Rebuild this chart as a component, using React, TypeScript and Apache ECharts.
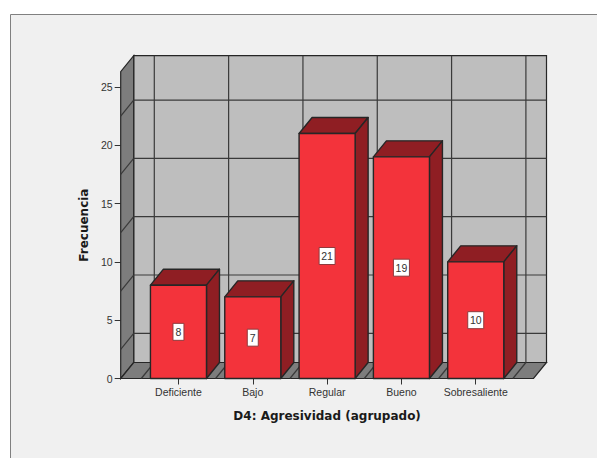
import React, { useEffect, useRef } from "react";
import * as echarts from "echarts";

const categories = ["Deficiente", "Bajo", "Regular", "Bueno", "Sobresaliente"];
const frequencies = [8, 7, 21, 19, 10];
const tickValues = [0, 5, 10, 15, 20, 25];
const wallLineValues = [2.5, 7.5, 12.5, 17.5, 22.5];
const axisMax = 26.3;

const DEPTH_X = 13;
const DEPTH_Y = 16;
const BAR_RATIO = 0.754;
const SIDE_MARGIN = 20.6;

const INK = "#262626";
const FONT = "'Liberation Sans', Arial, sans-serif";
const TITLE_FONT = "'DejaVu Sans', Verdana, sans-serif";

// Side wall, floor and back wall of the 3D box, with their grid lines.
function renderWalls(_params: any, api: any) {
  const base = api.coord([0, 0]);
  const band = api.size([1, 0])[0];
  const y0 = base[1];
  const yTop = api.coord([0, axisMax])[1];
  const xFirst = base[0] - band / 2;
  const x0 = xFirst - SIDE_MARGIN;
  const x1 = xFirst + band * categories.length + SIDE_MARGIN;
  const children: any[] = [
    {
      type: "polygon",
      shape: { points: [[x0 + DEPTH_X, yTop - DEPTH_Y], [x1 + DEPTH_X, yTop - DEPTH_Y], [x1 + DEPTH_X, y0 - DEPTH_Y], [x0 + DEPTH_X, y0 - DEPTH_Y]] },
      style: { fill: "#bebebe", stroke: INK, lineWidth: 1.2 },
    },
    {
      type: "polygon",
      shape: { points: [[x0, y0], [x0, yTop], [x0 + DEPTH_X, yTop - DEPTH_Y], [x0 + DEPTH_X, y0 - DEPTH_Y]] },
      style: { fill: "#7d7d7d", stroke: INK, lineWidth: 1.2 },
    },
    {
      type: "polygon",
      shape: { points: [[x0, y0], [x1, y0], [x1 + DEPTH_X, y0 - DEPTH_Y], [x0 + DEPTH_X, y0 - DEPTH_Y]] },
      style: { fill: "#7d7d7d", stroke: INK, lineWidth: 1.2 },
    },
  ];
  const line = (a: number[], b: number[]) => ({
    type: "line",
    shape: { x1: a[0], y1: a[1], x2: b[0], y2: b[1] },
    style: { stroke: "#3a3a3a", lineWidth: 1.2 },
  });
  wallLineValues.forEach((v) => {
    const y = api.coord([0, v])[1];
    children.push(line([x0, y], [x0 + DEPTH_X, y - DEPTH_Y]));
    children.push(line([x0 + DEPTH_X, y - DEPTH_Y], [x1 + DEPTH_X, y - DEPTH_Y]));
  });
  for (let i = 0; i <= categories.length; i++) {
    const x = xFirst + band * i;
    children.push(line([x, y0], [x + DEPTH_X, y0 - DEPTH_Y]));
    children.push(line([x + DEPTH_X, y0 - DEPTH_Y], [x + DEPTH_X, yTop - DEPTH_Y]));
  }
  return { type: "group", children };
}

// One extruded bar: front, top and side faces plus the boxed value label.
function renderBar(_params: any, api: any) {
  const value = api.value(1);
  const top = api.coord([api.value(0), value]);
  const y0 = api.coord([api.value(0), 0])[1];
  const band = api.size([1, 0])[0];
  const w = band * BAR_RATIO;
  const l = top[0] - w / 2;
  const r = top[0] + w / 2;
  const t = top[1];
  const edge = { stroke: INK, lineWidth: 1.4, lineJoin: "round" };
  const text = String(value);
  const boxW = text.length > 1 ? 16 : 11;
  const boxH = 17;
  const cy = (t + y0) / 2;
  return {
    type: "group",
    children: [
      {
        type: "polygon",
        shape: { points: [[l, t], [r, t], [r + DEPTH_X, t - DEPTH_Y], [l + DEPTH_X, t - DEPTH_Y]] },
        style: { fill: "#8f1e23", ...edge },
      },
      {
        type: "polygon",
        shape: { points: [[r, t], [r + DEPTH_X, t - DEPTH_Y], [r + DEPTH_X, y0 - DEPTH_Y], [r, y0]] },
        style: { fill: "#8f1e23", ...edge },
      },
      {
        type: "rect",
        shape: { x: l, y: t, width: w, height: y0 - t },
        style: { fill: "#f3333b", ...edge },
      },
      {
        type: "rect",
        shape: { x: top[0] - boxW / 2, y: cy - boxH / 2, width: boxW, height: boxH },
        style: { fill: "#ffffff", stroke: "#8f3a3d", lineWidth: 1 },
      },
      {
        type: "text",
        style: {
          text,
          x: top[0],
          y: cy,
          align: "center",
          verticalAlign: "middle",
          fill: "#333333",
          font: `10.5px ${FONT}`,
        },
      },
    ],
  };
}

export default function App() {
  const ref = useRef<HTMLDivElement>(null);
  useEffect(() => {
    document.body.style.margin = "0";
    const chart = echarts.init(ref.current!, undefined, { renderer: "svg" });
    chart.setOption({
      animation: false,
      backgroundColor: "#ffffff",
      graphic: [
        {
          type: "rect",
          z: -10,
          shape: { x: 10.5, y: 14.5, width: 620, height: 480 },
          style: { fill: "#f0f0f0", stroke: "#808080", lineWidth: 1 },
        },
      ],
      grid: { left: 141.3, top: 71.7, width: 371.6, height: 306.8 },
      xAxis: {
        type: "category",
        data: categories,
        name: "D4: Agresividad (agrupado)",
        nameLocation: "middle",
        nameGap: 31,
        nameTextStyle: { fontFamily: TITLE_FONT, fontWeight: "bold", fontSize: 12, color: "#1a1a1a" },
        axisLine: { show: false },
        axisTick: { show: true, alignWithLabel: true, length: 6, lineStyle: { color: "#333333" } },
        axisLabel: { margin: 8, fontFamily: FONT, fontSize: 10.5, color: "#333333", interval: 0 },
        splitLine: { show: false },
      },
      yAxis: {
        type: "value",
        min: 0,
        max: axisMax,
        offset: SIDE_MARGIN,
        name: "Frecuencia",
        nameLocation: "middle",
        nameGap: 29,
        nameTextStyle: { fontFamily: TITLE_FONT, fontWeight: "bold", fontSize: 12, color: "#1a1a1a" },
        axisLine: { show: false },
        axisTick: { show: true, length: 6, lineStyle: { color: "#333333" }, customValues: tickValues },
        axisLabel: { margin: 8, fontFamily: FONT, fontSize: 10.5, color: "#333333", customValues: tickValues },
        splitLine: { show: false },
      },
      series: [
        { type: "custom", z: 1, silent: true, data: [[0, 0]], renderItem: renderWalls },
        {
          type: "custom",
          z: 2,
          silent: true,
          encode: { x: 0, y: 1 },
          data: frequencies.map((v, i) => [i, v]),
          renderItem: renderBar,
        },
      ],
    });
    return () => chart.dispose();
  }, []);
  return <div ref={ref} style={{ position: "absolute", left: 0, top: 0, width: 597, height: 458 }} />;
}
